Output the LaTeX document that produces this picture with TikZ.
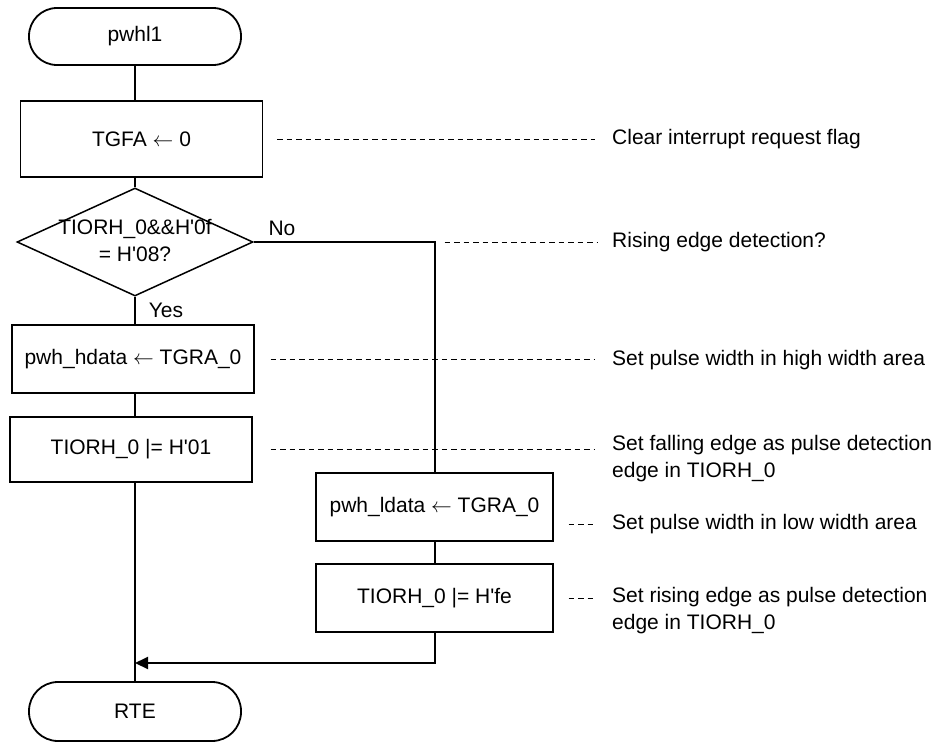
\documentclass[tikz,border=0pt]{standalone}
\usepackage{fontspec}
\setmainfont{Liberation Sans}
\usetikzlibrary{shapes.geometric,arrows.meta}
\newcommand{\apos}{\textquotesingle}
\newcommand{\getsto}{$\leftarrow$}

\tikzset{
	terminal/.style={draw, line width=1.8pt, rectangle, rounded corners=28pt, minimum width=212pt, minimum height=57pt, inner sep=0pt},
	process/.style={draw, line width=1.4pt, rectangle, minimum width=242pt, inner sep=0pt},
	decision/.style={draw, line width=1.5pt, diamond, minimum width=236pt, minimum height=108pt, inner sep=0pt},
	flow/.style={line width=2pt},
	note/.style={line width=1pt, dash pattern=on 5.5pt off 4pt},
	comment/.style={anchor=west, inner sep=0pt, align=left},
}

\begin{document}
\begin{tikzpicture}[x=1pt, y=-1pt, font=\fontsize{21}{27}\selectfont]
		%%%%% START %%%%%
		\useasboundingbox (0,0) rectangle (940,742);
		
		\node[terminal] (start) at (135,36.5) {pwhl1};
		\node[process, minimum height=76pt] (tgfa) at (141.5,139) {TGFA \getsto{} 0};
		\node[decision] (dec) at (135,242) {};
		\node[align=center, inner sep=0pt] (dectext) at (135,240) {TIORH\_0\&\&H\apos 0f\\= H\apos 08?};
		\node[process, minimum height=68pt] (hdata) at (133,359) {pwh\_hdata \getsto{} TGRA\_0};
		\node[process, minimum height=65pt] (h01) at (131,449.5) {TIORH\_0 |= H\apos 01};
		\node[process, minimum width=237pt, minimum height=68pt] (ldata) at (434.5,507) {pwh\_ldata \getsto{} TGRA\_0};
		\node[process, minimum width=237pt, minimum height=68pt] (hfe) at (434.5,598) {TIORH\_0 |= H\apos fe};
		\node[terminal, minimum height=59pt, rounded corners=29pt] (rte) at (135,711.5) {RTE};
		
		\node[inner sep=0pt] (yes) at (166,310) {Yes};
		\node[inner sep=0pt] (no) at (282,228) {No};
		
		\coordinate (turn) at (dec.east -| ldata.north);
		\coordinate (join) at (135,663);
		
		\draw[flow] (start.south) -- (start.south |- tgfa.north);
		\draw[flow] (dec.north |- tgfa.south) -- (dec.north);
		\draw[flow] (dec.south) -- (dec.south |- hdata.north);
		\draw[flow] (dec.south |- hdata.south) -- (dec.south |- h01.north);
		\draw[flow] (dec.south |- h01.south) -- (rte.north);
		\draw[flow] (dec.east) -- (turn) -- (ldata.north);
		\draw[flow] (ldata.south) -- (hfe.north);
		\draw[flow, -{Triangle[length=13pt, width=12pt]}] (hfe.south) |- (join);
		
		\node[comment] (c1) at (612,139) {Clear interrupt request flag};
		\node[comment] (c2) at (612,242) {Rising edge detection?};
		\node[comment] (c3) at (612,360) {Set pulse width in high width area};
		\node[comment] (c4) at (612,458.5) {Set falling edge as pulse detection\\edge in TIORH\_0};
		\node[comment] (c5) at (612,524) {Set pulse width in low width area};
		\node[comment] (c6) at (612,610.5) {Set rising edge as pulse detection\\edge in TIORH\_0};
		
		\draw[note, shorten <=14pt, shorten >=17pt] (tgfa.east) -- (tgfa.east -| c1.west);
		\draw[note, shorten <=10pt, shorten >=15pt] (turn) -- (turn -| c2.west);
		\draw[note, shorten <=16pt, shorten >=17pt] (hdata.east) -- (hdata.east -| c3.west);
		\draw[note, shorten <=18pt, shorten >=17pt] (h01.east) -- (h01.east -| c4.west);
		\draw[note, shorten <=15pt, shorten >=19pt] (c5.west -| ldata.east) -- (c5.west);
		\draw[note, shorten <=15pt, shorten >=19pt] (hfe.east) -- (hfe.east -| c6.west);
		
		%%%%% END %%%%%
\end{tikzpicture}
\end{document}
